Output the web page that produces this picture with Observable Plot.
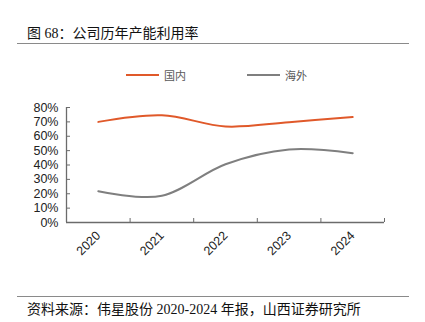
<!DOCTYPE html>
<html>
<head>
<meta charset="utf-8">
<script src="https://cdn.jsdelivr.net/npm/d3@7"></script>
<script src="https://cdn.jsdelivr.net/npm/@observablehq/plot@0.6"></script>
<style>
  html, body { margin: 0; padding: 0; background: #fff; }
  #wrap { position: relative; width: 425px; height: 322px; overflow: hidden; }
  #wrap svg { position: absolute; left: 0; top: 0; }
  .title { position: absolute; left: 27px; top: 24px; font: 14px/20px "Liberation Serif", "Noto Sans CJK SC", serif; color: #111; white-space: nowrap; }
  .caption { position: absolute; left: 27px; top: 300px; font: 14px/20px "Liberation Serif", "Noto Sans CJK SC", serif; color: #111; white-space: nowrap; }
  .rule { position: absolute; left: 17px; width: 392px; height: 0; border-top: 1.5px solid #8a8a8a; }
  .legend { position: absolute; top: 68px; left: 0; font: 11px/14px "Noto Sans CJK SC", sans-serif; color: #595959; }
  .legend .item { position: absolute; display: flex; align-items: center; white-space: nowrap; }
  .legend .sw { display: inline-block; width: 33px; height: 2px; margin-right: 5px; }
</style>
</head>
<body>
<div id="wrap"></div>
<script>
const years = [2020, 2021, 2022, 2023, 2024];
const domestic = [0.70, 0.746, 0.668, 0.698, 0.734];
const overseas = [0.218, 0.186, 0.405, 0.508, 0.482];
const seriesNames = ["国内", "海外"];
const seriesColors = ["#E0592A", "#7F7F7F"];
const yTicks = [0, 0.1, 0.2, 0.3, 0.4, 0.5, 0.6, 0.7, 0.8];
const xDomain = [2019.5, 2024.5];
const xBounds = [2020.5, 2021.5, 2022.5, 2023.5, 2024.5];
const titleText = "图 68：公司历年产能利用率";
const captionText = "资料来源：伟星股份 2020-2024 年报，山西证券研究所";

const rows = [];
years.forEach((yr, i) => {
  rows.push({year: yr, value: domestic[i], series: seriesNames[0]});
  rows.push({year: yr, value: overseas[i], series: seriesNames[1]});
});

const axisColor = "#6b6b6b";
const chart = Plot.plot({
  width: 425,
  height: 322,
  marginLeft: 66,
  marginRight: 41,
  marginTop: 107,
  marginBottom: 100,
  style: {fontFamily: "'Liberation Sans', Arial, sans-serif", fontSize: "12.5px", color: "#222", background: "transparent"},
  x: {domain: xDomain, axis: null},
  y: {domain: [0, 0.8], axis: null},
  color: {domain: seriesNames, range: seriesColors},
  marks: [
    Plot.axisY({ticks: yTicks, tickFormat: d3.format(".0%"), tickSize: -4, tickPadding: 12, stroke: axisColor, fill: "#222", fontSize: 12.5, label: null}),
    Plot.axisX({ticks: years, tickFormat: d => String(d), tickSize: 0, tickRotate: -45, tickPadding: 11, fill: "#222", fontSize: 12.5, label: null}),
    Plot.axisX({ticks: xBounds, tickFormat: () => "", tickSize: -4, stroke: axisColor, label: null}),
    Plot.ruleY([0], {stroke: axisColor, strokeWidth: 1.3}),
    Plot.ruleX([xDomain[0]], {stroke: axisColor, strokeWidth: 1.3}),
    Plot.line(rows, {x: "year", y: "value", z: "series", stroke: "series", strokeWidth: 2, curve: "cardinal"})
  ]
});
const wrap = document.getElementById("wrap");
wrap.appendChild(chart);

function add(cls, html, style) {
  const d = document.createElement("div");
  d.className = cls;
  if (html != null) d.textContent = html;
  Object.assign(d.style, style || {});
  wrap.appendChild(d);
  return d;
}
add("title", titleText);
add("rule", null, {top: "43px"});
add("rule", null, {top: "295.5px"});
add("caption", captionText);

const legend = add("legend", null);
const legendLeft = [126, 247];
seriesNames.forEach((name, i) => {
  const item = document.createElement("div");
  item.className = "item";
  item.style.left = legendLeft[i] + "px";
  const sw = document.createElement("span");
  sw.className = "sw";
  sw.style.background = seriesColors[i];
  const t = document.createElement("span");
  t.textContent = name;
  item.appendChild(sw);
  item.appendChild(t);
  legend.appendChild(item);
});
</script>
</body>
</html>
